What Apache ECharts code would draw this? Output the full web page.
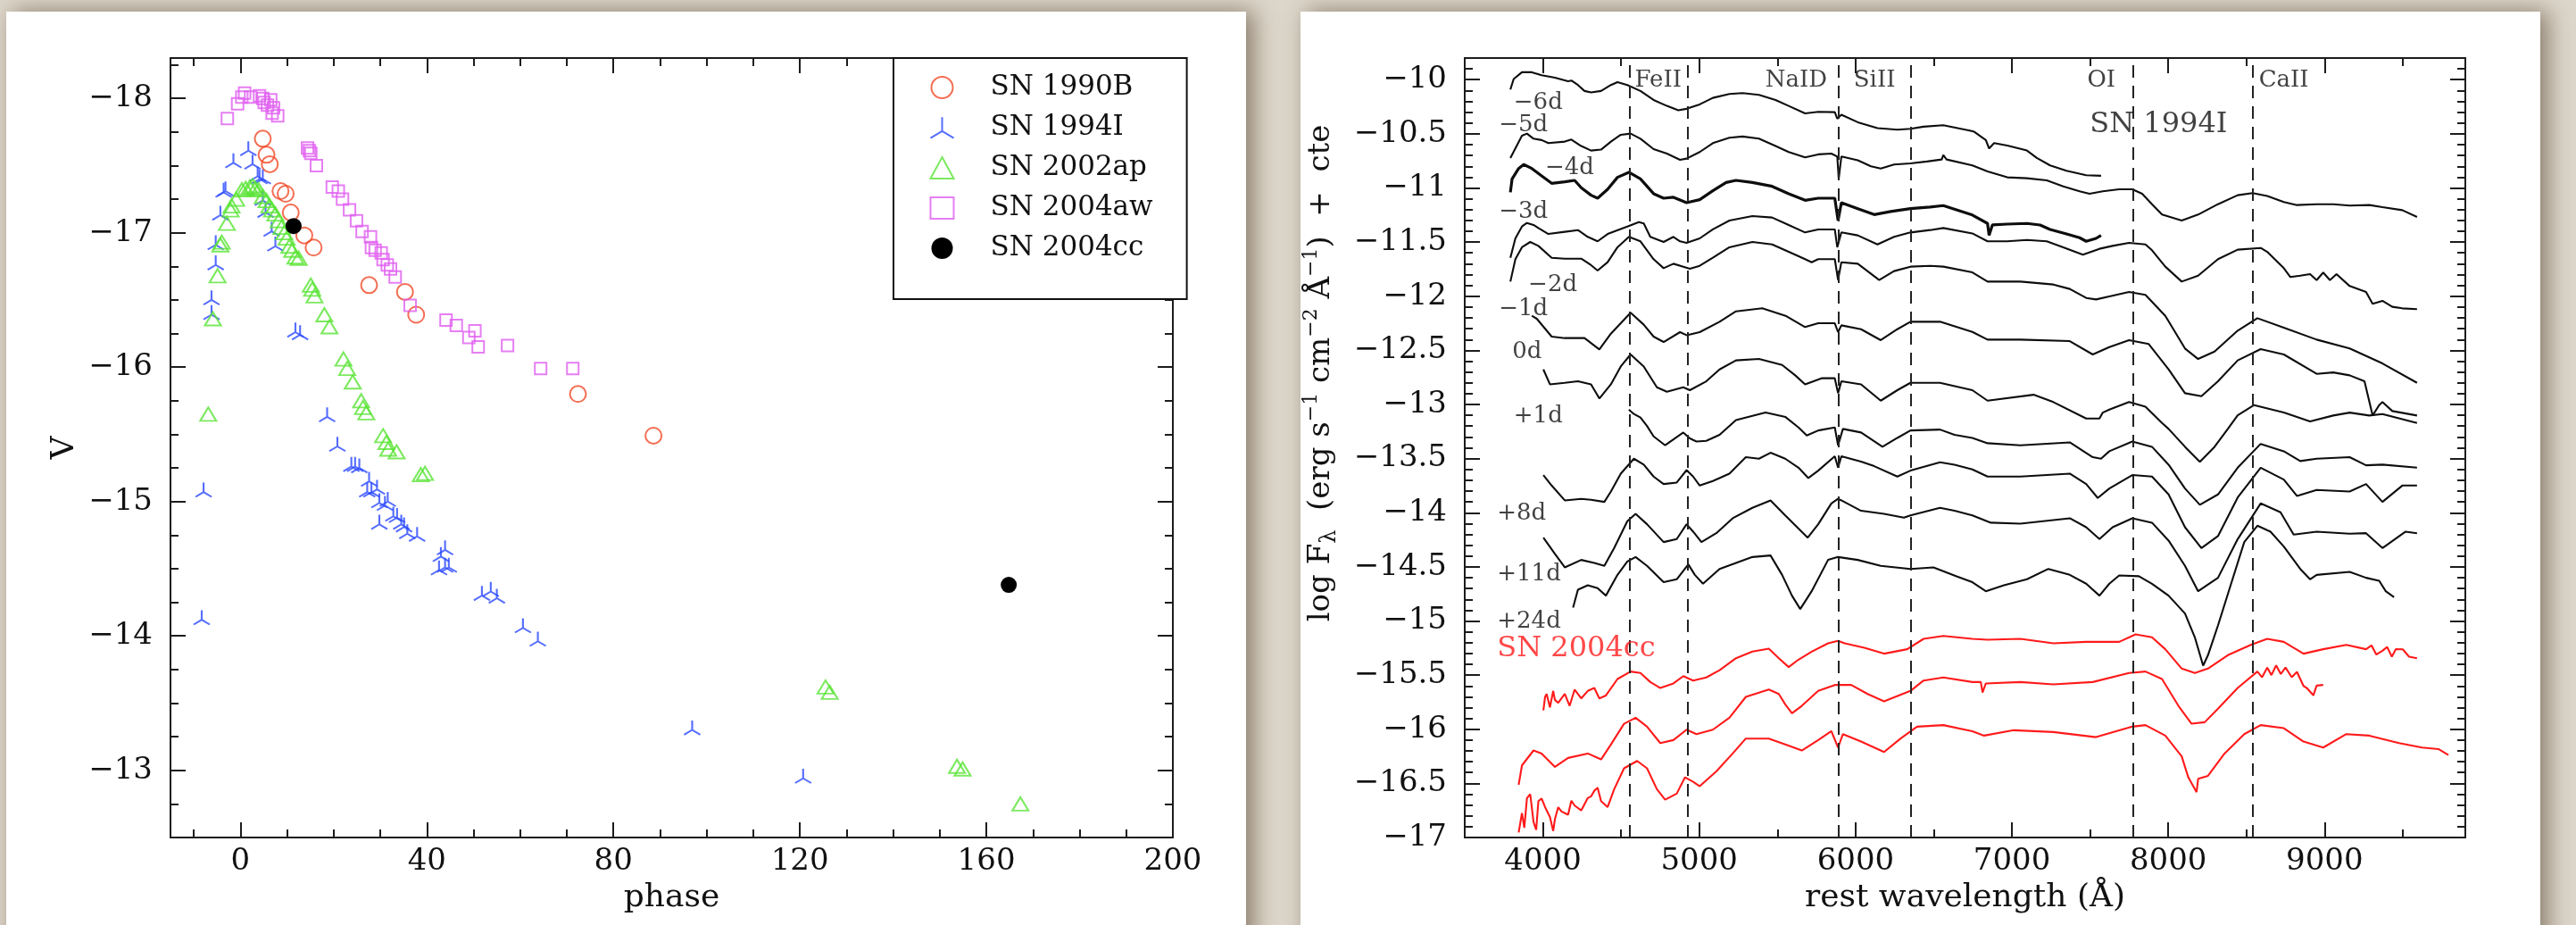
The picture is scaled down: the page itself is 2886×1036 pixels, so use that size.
<!DOCTYPE html>
<html><head><meta charset="utf-8">
<script src="https://cdn.jsdelivr.net/npm/echarts@6/dist/echarts.min.js"></script>
<style>html,body{margin:0;padding:0;background:#ddd6ca}#c{width:2886px;height:1036px}</style>
</head><body><div id="c"></div>
<script>
// ---------- Left panel: light curves (phase, V) ----------
const sn1990B = [[4.8,-17.70],[5.6,-17.58],[6.3,-17.51],[8.6,-17.31],[9.7,-17.29],[10.8,-17.15],[13.7,-16.98],[15.7,-16.89],[27.6,-16.61],[35.3,-16.56],[37.7,-16.39],[72.4,-15.80],[88.6,-15.49]];
const sn1994I = [[-8.3,-14.12],[-7.9,-15.07],[-6.2,-16.39],[-6.2,-16.50],[-5.3,-16.76],[-5.3,-16.91],[-4.3,-17.13],[-3.6,-17.30],[-3.2,-17.31],[-1.5,-17.52],[1.7,-17.61],[2.6,-17.51],[3.7,-17.42],[4.1,-17.40],[4.8,-17.40],[4.8,-17.24],[5.4,-17.15],[6.7,-17.01],[7.5,-16.90],[11.8,-16.26],[12.8,-16.24],[18.6,-15.63],[20.8,-15.41],[23.8,-15.26],[24.6,-15.26],[25.5,-15.25],[27.2,-15.07],[27.6,-15.15],[28.1,-15.07],[29.3,-15.09],[29.8,-14.99],[29.8,-14.83],[31.0,-14.97],[31.6,-15.00],[32.8,-14.89],[33.6,-14.88],[34.5,-14.83],[35.1,-14.81],[35.8,-14.76],[37.9,-14.74],[42.6,-14.49],[43.0,-14.59],[43.9,-14.64],[43.9,-14.51],[44.7,-14.51],[51.8,-14.30],[53.7,-14.33],[55.0,-14.28],[60.6,-14.06],[63.8,-13.96],[96.9,-13.30],[120.7,-12.94]];
const sn2002ap = [[-6.9,-15.65],[-5.9,-16.36],[-4.9,-16.68],[-4.3,-16.91],[-4.0,-16.93],[-2.9,-17.07],[-2.1,-17.17],[-1.9,-17.20],[-0.9,-17.25],[0.3,-17.32],[1.1,-17.33],[2.0,-17.34],[2.6,-17.35],[3.2,-17.33],[3.9,-17.32],[4.8,-17.27],[5.6,-17.24],[6.2,-17.20],[6.8,-17.17],[7.5,-17.14],[8.2,-17.09],[8.8,-17.04],[9.4,-17.00],[9.9,-16.96],[10.5,-16.90],[11.1,-16.87],[11.8,-16.82],[12.5,-16.81],[15.1,-16.61],[15.4,-16.58],[15.9,-16.53],[18.0,-16.39],[19.1,-16.30],[22.1,-16.06],[22.9,-15.99],[24.1,-15.89],[25.9,-15.75],[26.3,-15.70],[27.0,-15.66],[30.6,-15.49],[31.3,-15.44],[31.7,-15.39],[33.5,-15.37],[38.7,-15.20],[39.6,-15.21],[125.5,-13.62],[126.4,-13.58],[153.7,-13.03],[154.9,-13.01],[167.3,-12.75]];
const sn2004aw = [[-2.8,-17.85],[-0.6,-17.96],[0.3,-18.01],[0.9,-18.04],[2.2,-18.01],[4.1,-18.02],[4.8,-18.00],[5.1,-17.97],[5.8,-17.95],[6.5,-17.99],[7.1,-17.93],[6.8,-17.89],[8.0,-17.87],[14.4,-17.63],[14.8,-17.61],[15.1,-17.59],[16.3,-17.50],[19.7,-17.34],[21.0,-17.31],[21.9,-17.25],[23.4,-17.17],[24.9,-17.09],[26.1,-17.01],[27.9,-16.97],[28.1,-16.89],[28.9,-16.87],[30.2,-16.85],[30.6,-16.80],[31.5,-16.76],[32.2,-16.73],[33.2,-16.67],[36.4,-16.46],[44.1,-16.35],[46.3,-16.31],[49.0,-16.22],[50.3,-16.27],[51.0,-16.15],[57.3,-16.16],[64.4,-15.99],[71.3,-15.99]];
const sn2004cc = [[11.4,-17.05],[164.8,-14.38]];
const lcNames = ['SN 1990B','SN 1994I','SN 2002ap','SN 2004aw','SN 2004cc'];

const phaseMajor = [0,40,80,120,160,200];
const phaseMinor = [-10,10,20,30,50,60,70,90,100,110,130,140,150,170,180,190];
const vMajor = [-18,-17,-16,-15,-14,-13];
const vMinor = [-18.25,-17.75,-17.5,-17.25,-16.75,-16.5,-16.25,-15.75,-15.5,-15.25,-14.75,-14.5,-14.25,-13.75,-13.5,-13.25,-12.75];

// ---------- Right panel: spectra (rest wavelength, log F + cte) ----------
const spM6 = [[3792,-10.091],[3813,-9.994],[3866,-9.931],[3929,-9.931],[3992,-9.959],[4077,-9.981],[4161,-10.014],[4182,-10.008],[4224,-10.049],[4266,-10.104],[4308,-10.118],[4372,-10.104],[4435,-10.049],[4477,-10.022],[4540,-10.049],[4624,-10.104],[4708,-10.187],[4793,-10.242],[4866,-10.283],[4919,-10.269],[5003,-10.228],[5087,-10.168],[5193,-10.132],[5277,-10.124],[5382,-10.140],[5488,-10.187],[5572,-10.242],[5677,-10.311],[5761,-10.297],[5867,-10.300],[5883,-10.360],[5909,-10.324],[6014,-10.393],[6140,-10.448],[6267,-10.462],[6351,-10.454],[6435,-10.434],[6561,-10.421],[6730,-10.470],[6759,-10.481],[6833,-10.558],[6854,-10.635],[6886,-10.586],[6970,-10.608],[7096,-10.654],[7159,-10.723],[7244,-10.792],[7349,-10.842],[7475,-10.883],[7570,-10.888]];
const spM5 = [[3792,-10.723],[3866,-10.517],[3898,-10.498],[3940,-10.545],[3992,-10.558],[4035,-10.586],[4140,-10.572],[4182,-10.553],[4245,-10.613],[4308,-10.655],[4372,-10.646],[4435,-10.572],[4498,-10.509],[4561,-10.498],[4624,-10.545],[4708,-10.641],[4793,-10.682],[4877,-10.740],[4919,-10.729],[5003,-10.668],[5087,-10.586],[5193,-10.536],[5277,-10.525],[5382,-10.545],[5488,-10.613],[5572,-10.668],[5677,-10.718],[5761,-10.690],[5845,-10.682],[5883,-10.710],[5892,-10.916],[5909,-10.710],[6014,-10.745],[6098,-10.800],[6161,-10.820],[6246,-10.784],[6351,-10.773],[6456,-10.756],[6551,-10.737],[6561,-10.696],[6582,-10.737],[6747,-10.792],[6844,-10.847],[6970,-10.902],[7096,-10.910],[7223,-10.930],[7328,-10.985],[7433,-11.031],[7496,-11.053],[7581,-11.031],[7686,-11.012],[7770,-11.012],[7833,-11.053],[7896,-11.150],[7960,-11.246],[8086,-11.301],[8191,-11.246],[8318,-11.150],[8444,-11.067],[8539,-11.048],[8633,-11.075],[8739,-11.130],[8823,-11.158],[8949,-11.150],[9055,-11.150],[9160,-11.163],[9286,-11.158],[9370,-11.177],[9497,-11.205],[9591,-11.268]];
const spM4 = [[3792,-11.040],[3803,-10.916],[3845,-10.820],[3877,-10.784],[3929,-10.820],[3992,-10.888],[4056,-10.957],[4140,-10.943],[4203,-10.930],[4245,-10.998],[4308,-11.067],[4350,-11.095],[4414,-11.012],[4477,-10.902],[4550,-10.855],[4624,-10.916],[4708,-11.053],[4772,-11.095],[4835,-11.086],[4919,-11.136],[5003,-11.108],[5087,-11.026],[5172,-10.949],[5235,-10.930],[5340,-10.949],[5466,-10.985],[5572,-11.053],[5677,-11.114],[5761,-11.095],[5867,-11.095],[5888,-11.301],[5909,-11.136],[6014,-11.191],[6119,-11.246],[6225,-11.218],[6351,-11.191],[6477,-11.177],[6561,-11.163],[6747,-11.250],[6844,-11.328],[6854,-11.438],[6875,-11.342],[6970,-11.334],[7096,-11.328],[7180,-11.342],[7244,-11.383],[7349,-11.425],[7433,-11.460],[7475,-11.493],[7538,-11.466],[7570,-11.438]];
const spM3 = [[3792,-11.645],[3824,-11.466],[3866,-11.356],[3898,-11.323],[3940,-11.342],[3971,-11.370],[4035,-11.425],[4140,-11.405],[4224,-11.389],[4287,-11.452],[4350,-11.493],[4414,-11.425],[4540,-11.356],[4614,-11.315],[4645,-11.328],[4687,-11.452],[4772,-11.499],[4835,-11.452],[4877,-11.493],[4919,-11.507],[5003,-11.466],[5087,-11.383],[5193,-11.301],[5340,-11.260],[5466,-11.273],[5572,-11.342],[5677,-11.411],[5761,-11.383],[5867,-11.383],[5883,-11.548],[5909,-11.411],[6014,-11.438],[6140,-11.521],[6246,-11.452],[6351,-11.411],[6477,-11.389],[6561,-11.370],[6747,-11.420],[6844,-11.493],[6970,-11.493],[7096,-11.480],[7223,-11.493],[7328,-11.548],[7454,-11.617],[7560,-11.562],[7644,-11.535],[7749,-11.507],[7854,-11.521],[7896,-11.576],[7981,-11.727],[8086,-11.865],[8191,-11.810],[8318,-11.658],[8444,-11.570],[8591,-11.554],[8633,-11.590],[8739,-11.741],[8781,-11.823],[8844,-11.810],[8907,-11.796],[8949,-11.851],[8991,-11.782],[9034,-11.851],[9076,-11.796],[9160,-11.906],[9265,-11.961],[9307,-12.071],[9370,-12.043],[9433,-12.098],[9497,-12.112],[9591,-12.120]];
const spM2 = [[3792,-11.865],[3824,-11.658],[3866,-11.548],[3919,-11.499],[3971,-11.535],[4056,-11.645],[4140,-11.653],[4245,-11.653],[4308,-11.713],[4350,-11.763],[4414,-11.686],[4477,-11.548],[4550,-11.452],[4624,-11.493],[4708,-11.658],[4772,-11.741],[4835,-11.700],[4898,-11.727],[4940,-11.746],[5003,-11.719],[5087,-11.645],[5193,-11.548],[5340,-11.499],[5466,-11.521],[5572,-11.590],[5677,-11.658],[5719,-11.686],[5761,-11.658],[5867,-11.658],[5888,-11.851],[5909,-11.686],[6014,-11.700],[6151,-11.851],[6246,-11.768],[6351,-11.727],[6477,-11.719],[6561,-11.727],[6747,-11.780],[6844,-11.865],[7054,-11.865],[7265,-11.892],[7370,-11.933],[7475,-12.016],[7538,-12.030],[7623,-12.002],[7749,-11.961],[7854,-11.988],[7981,-12.181],[8107,-12.483],[8191,-12.580],[8296,-12.511],[8444,-12.318],[8570,-12.203],[8739,-12.291],[8949,-12.401],[9160,-12.483],[9370,-12.621],[9591,-12.800]];
const spM1 = [[3929,-12.181],[3961,-12.208],[4056,-12.373],[4140,-12.387],[4266,-12.387],[4361,-12.492],[4435,-12.346],[4561,-12.153],[4645,-12.263],[4708,-12.373],[4772,-12.423],[4877,-12.332],[4919,-12.360],[5003,-12.332],[5130,-12.236],[5235,-12.140],[5403,-12.112],[5552,-12.181],[5677,-12.285],[5761,-12.250],[5867,-12.250],[5888,-12.332],[5909,-12.269],[6035,-12.305],[6161,-12.406],[6267,-12.305],[6351,-12.236],[6540,-12.236],[6747,-12.330],[6844,-12.401],[7054,-12.401],[7370,-12.415],[7517,-12.538],[7623,-12.470],[7749,-12.406],[7875,-12.442],[8002,-12.676],[8107,-12.896],[8212,-12.924],[8318,-12.786],[8444,-12.593],[8591,-12.489],[8739,-12.538],[8949,-12.717],[9055,-12.704],[9160,-12.731],[9255,-12.786],[9307,-13.102],[9349,-13.006],[9370,-12.978],[9433,-13.061],[9591,-13.102]];
const sp0 = [[4003,-12.676],[4045,-12.814],[4140,-12.800],[4224,-12.786],[4308,-12.814],[4361,-12.945],[4435,-12.814],[4498,-12.649],[4561,-12.538],[4645,-12.649],[4729,-12.841],[4793,-12.882],[4898,-12.841],[4940,-12.868],[5045,-12.786],[5130,-12.676],[5235,-12.593],[5382,-12.580],[5530,-12.635],[5614,-12.731],[5677,-12.814],[5782,-12.758],[5867,-12.758],[5888,-12.896],[5909,-12.786],[6035,-12.814],[6161,-12.965],[6267,-12.868],[6351,-12.800],[6540,-12.800],[6747,-12.868],[6844,-12.965],[7138,-12.910],[7265,-12.978],[7475,-13.130],[7560,-13.130],[7581,-13.075],[7623,-13.047],[7749,-12.978],[7854,-13.020],[7960,-13.171],[8002,-13.226],[8107,-13.391],[8202,-13.529],[8296,-13.391],[8381,-13.226],[8444,-13.100],[8549,-13.006],[8739,-13.075],[8907,-13.157],[9055,-13.102],[9160,-13.075],[9286,-13.102],[9370,-13.088],[9591,-13.171]];
const spP1 = [[4550,-13.047],[4582,-13.088],[4624,-13.121],[4666,-13.199],[4708,-13.295],[4782,-13.377],[4835,-13.322],[4898,-13.259],[4940,-13.314],[4982,-13.342],[5045,-13.336],[5130,-13.281],[5235,-13.144],[5424,-13.075],[5552,-13.116],[5635,-13.212],[5688,-13.287],[5761,-13.240],[5867,-13.212],[5888,-13.377],[5919,-13.226],[6035,-13.259],[6172,-13.391],[6267,-13.309],[6351,-13.240],[6540,-13.232],[6633,-13.281],[6747,-13.309],[6844,-13.358],[7054,-13.377],[7370,-13.350],[7517,-13.487],[7570,-13.501],[7623,-13.432],[7770,-13.342],[7896,-13.391],[8002,-13.556],[8107,-13.776],[8202,-13.927],[8318,-13.831],[8444,-13.584],[8591,-13.364],[8739,-13.432],[8844,-13.523],[8949,-13.501],[9160,-13.487],[9265,-13.562],[9370,-13.556],[9591,-13.584]];
const spP8 = [[4003,-13.652],[4056,-13.749],[4140,-13.886],[4245,-13.872],[4308,-13.881],[4393,-13.900],[4435,-13.804],[4498,-13.639],[4582,-13.501],[4645,-13.556],[4708,-13.666],[4772,-13.735],[4856,-13.721],[4919,-13.606],[4961,-13.666],[5003,-13.749],[5087,-13.707],[5193,-13.639],[5298,-13.487],[5382,-13.501],[5456,-13.446],[5550,-13.501],[5635,-13.584],[5698,-13.680],[5761,-13.611],[5867,-13.479],[5888,-13.584],[5909,-13.479],[6035,-13.528],[6119,-13.570],[6267,-13.666],[6351,-13.611],[6540,-13.534],[6633,-13.556],[6747,-13.600],[6844,-13.666],[7054,-13.666],[7370,-13.639],[7475,-13.735],[7549,-13.864],[7623,-13.776],[7770,-13.652],[7896,-13.666],[8002,-13.831],[8107,-14.134],[8212,-14.326],[8318,-14.216],[8444,-13.859],[8591,-13.584],[8739,-13.694],[8823,-13.845],[8949,-13.790],[9160,-13.804],[9265,-13.735],[9370,-13.900],[9497,-13.749],[9591,-13.749]];
const spP11 = [[4003,-14.230],[4077,-14.381],[4140,-14.505],[4245,-14.436],[4329,-14.464],[4393,-14.491],[4456,-14.326],[4540,-14.079],[4593,-14.010],[4666,-14.106],[4772,-14.271],[4856,-14.243],[4919,-14.106],[4961,-14.175],[5014,-14.271],[5109,-14.189],[5214,-14.051],[5340,-13.955],[5456,-13.886],[5550,-14.024],[5635,-14.147],[5694,-14.230],[5761,-14.106],[5845,-13.914],[5888,-13.872],[5909,-13.886],[6035,-13.982],[6182,-14.010],[6309,-14.046],[6351,-14.024],[6540,-13.955],[6633,-13.982],[6747,-14.024],[6865,-14.092],[7054,-14.101],[7370,-14.051],[7475,-14.134],[7560,-14.244],[7644,-14.134],[7770,-14.051],[7896,-14.092],[8002,-14.257],[8107,-14.491],[8191,-14.725],[8318,-14.601],[8444,-14.244],[8591,-13.914],[8718,-13.996],[8802,-14.202],[8949,-14.175],[9160,-14.194],[9265,-14.189],[9370,-14.326],[9518,-14.175],[9591,-14.189]];
const spP24 = [[4193,-14.876],[4224,-14.711],[4287,-14.670],[4350,-14.697],[4403,-14.766],[4477,-14.574],[4540,-14.450],[4593,-14.409],[4666,-14.491],[4772,-14.642],[4856,-14.615],[4930,-14.477],[4972,-14.574],[5024,-14.656],[5130,-14.519],[5235,-14.464],[5340,-14.409],[5456,-14.395],[5530,-14.574],[5593,-14.766],[5646,-14.890],[5719,-14.725],[5824,-14.436],[5888,-14.409],[6014,-14.436],[6161,-14.491],[6351,-14.519],[6498,-14.505],[6646,-14.587],[6747,-14.642],[6833,-14.725],[6949,-14.670],[7096,-14.615],[7233,-14.519],[7370,-14.574],[7475,-14.656],[7560,-14.766],[7623,-14.656],[7686,-14.579],[7812,-14.587],[7896,-14.656],[8002,-14.766],[8107,-14.931],[8170,-15.151],[8223,-15.412],[8254,-15.316],[8318,-15.041],[8402,-14.656],[8486,-14.271],[8570,-14.120],[8654,-14.175],[8739,-14.312],[8844,-14.519],[8907,-14.615],[8949,-14.574],[9160,-14.546],[9265,-14.601],[9349,-14.629],[9391,-14.725],[9444,-14.780]];
const sp04a = [[4003,-15.825],[4014,-15.701],[4024,-15.674],[4045,-15.798],[4066,-15.646],[4077,-15.729],[4098,-15.756],[4140,-15.674],[4171,-15.784],[4203,-15.633],[4245,-15.715],[4287,-15.646],[4329,-15.619],[4361,-15.715],[4403,-15.688],[4477,-15.536],[4561,-15.467],[4624,-15.481],[4687,-15.564],[4751,-15.619],[4835,-15.577],[4898,-15.509],[4961,-15.550],[5045,-15.522],[5130,-15.454],[5235,-15.344],[5340,-15.283],[5445,-15.256],[5509,-15.344],[5572,-15.426],[5635,-15.357],[5719,-15.283],[5824,-15.206],[5888,-15.184],[5930,-15.206],[6056,-15.247],[6182,-15.302],[6330,-15.261],[6435,-15.165],[6561,-15.138],[6747,-15.165],[6844,-15.173],[7054,-15.165],[7265,-15.206],[7475,-15.193],[7686,-15.193],[7791,-15.124],[7896,-15.151],[7981,-15.261],[8086,-15.440],[8170,-15.481],[8254,-15.440],[8381,-15.316],[8528,-15.220],[8633,-15.165],[8739,-15.193],[8865,-15.302],[8991,-15.261],[9139,-15.220],[9265,-15.261],[9300,-15.225],[9330,-15.310],[9370,-15.275],[9400,-15.240],[9430,-15.330],[9455,-15.261],[9500,-15.262],[9540,-15.330],[9591,-15.344]];
const sp04b = [[3845,-16.513],[3866,-16.334],[3940,-16.196],[3992,-16.224],[4077,-16.348],[4161,-16.265],[4287,-16.224],[4372,-16.279],[4435,-16.141],[4519,-15.949],[4593,-15.894],[4666,-15.976],[4751,-16.128],[4835,-16.100],[4919,-16.004],[4982,-16.045],[5087,-16.004],[5193,-15.894],[5298,-15.701],[5445,-15.633],[5509,-15.674],[5550,-15.770],[5593,-15.853],[5656,-15.784],[5761,-15.646],[5867,-15.591],[5972,-15.591],[6077,-15.674],[6182,-15.742],[6351,-15.646],[6435,-15.550],[6561,-15.522],[6747,-15.564],[6801,-15.564],[6812,-15.660],[6833,-15.577],[7054,-15.564],[7265,-15.586],[7517,-15.564],[7749,-15.481],[7854,-15.467],[7960,-15.536],[8065,-15.784],[8149,-15.949],[8233,-15.935],[8318,-15.811],[8444,-15.619],[8570,-15.467],[8600,-15.520],[8633,-15.430],[8660,-15.500],[8690,-15.410],[8720,-15.490],[8750,-15.430],[8790,-15.520],[8823,-15.470],[8865,-15.600],[8886,-15.619],[8928,-15.687],[8949,-15.597],[8991,-15.591]];
const sp04c = [[3845,-16.953],[3866,-16.774],[3881,-16.910],[3898,-16.636],[3919,-16.600],[3940,-16.856],[3957,-16.930],[3971,-16.664],[3992,-16.640],[4014,-16.719],[4045,-16.810],[4066,-16.940],[4077,-16.829],[4098,-16.720],[4119,-16.760],[4161,-16.790],[4182,-16.660],[4203,-16.705],[4245,-16.750],[4287,-16.636],[4308,-16.620],[4329,-16.568],[4350,-16.540],[4372,-16.664],[4414,-16.719],[4456,-16.554],[4519,-16.361],[4603,-16.293],[4666,-16.361],[4729,-16.554],[4782,-16.650],[4856,-16.595],[4909,-16.444],[4961,-16.485],[5003,-16.526],[5109,-16.389],[5214,-16.224],[5298,-16.086],[5445,-16.086],[5550,-16.141],[5656,-16.196],[5761,-16.100],[5845,-16.018],[5888,-16.169],[5919,-16.045],[6035,-16.114],[6182,-16.210],[6288,-16.086],[6393,-15.976],[6561,-15.962],[6747,-16.018],[6822,-16.059],[7012,-16.009],[7265,-16.026],[7538,-16.073],[7770,-15.976],[7854,-15.962],[7981,-16.059],[8086,-16.251],[8128,-16.444],[8181,-16.581],[8191,-16.458],[8254,-16.430],[8360,-16.224],[8486,-16.045],[8591,-15.962],[8739,-15.990],[8865,-16.114],[8991,-16.169],[9139,-16.045],[9286,-16.059],[9476,-16.128],[9623,-16.169],[9728,-16.183],[9792,-16.238]];
const blackSpectra = [spM6, spM5, spM4, spM3, spM2, spM1, sp0, spP1, spP8, spP11, spP24];
const redSpectra = [sp04a, sp04b, sp04c];
const lineIds = [4555, 4924, 5890, 6355, 7774, 8542];
const lineNames = [['FeII',4737],['NaID',5620],['SiII',6121],['OI',7572],['CaII',8739]];
const epochLabels = [['\u22126d',3813,-10.215],['\u22125d',3718,-10.421],['\u22124d',4014,-10.817],['\u22123d',3718,-11.219],['\u22122d',3906,-11.898],['\u22121d',3718,-12.120],['0d',3804,-12.516],['+1d',3813,-13.111],['+8d',3707,-14.010],['+11d',3707,-14.571],['+24d',3707,-15.008]];
const wlMajor = [4000,5000,6000,7000,8000,9000];
const wlMinor = [4500,5500,6500,7500,8500,9500];
const fMajor = [-17,-16.5,-16,-15.5,-15,-14.5,-14,-13.5,-13,-12.5,-12,-11.5,-11,-10.5,-10];

// ---------- build ----------
const FONT = 'DejaVu Serif';
const AX = '#1c1c1c';
const fmt = v => String(v).replace('-', '\u2212');
const fMinor = [];
for (let i = -169; i <= -98; i++) if (i % 5 !== 0) fMinor.push(i / 10);

function ax(kind, grid, pos, min, max, ticks, len, labels, extra) {
  return Object.assign({
    gridIndex: grid, type: 'value', position: pos, min: min, max: max,
    axisLine: {show: true, onZero: false, lineStyle: {color: AX, width: 2}},
    axisTick: {show: true, inside: true, length: len, customValues: ticks, lineStyle: {color: AX, width: 2}},
    axisLabel: labels ? {show: true, customValues: labels, formatter: fmt, fontFamily: FONT, fontSize: 34, color: '#111', margin: kind === 'x' ? 10 : 20} : {show: false},
    splitLine: {show: false}, minorTick: {show: false}, minorSplitLine: {show: false}
  }, extra || {});
}
const nameStyle = {fontFamily: FONT, fontSize: 36, color: '#111'};

const xAxis = [
  ax('x', 0, 'bottom', -15, 200, phaseMajor, 17, phaseMajor, {name: 'phase', nameLocation: 'middle', nameGap: 50, nameTextStyle: nameStyle}),
  ax('x', 0, 'bottom', -15, 200, phaseMinor, 9, null),
  ax('x', 0, 'top', -15, 200, phaseMajor, 17, null),
  ax('x', 0, 'top', -15, 200, phaseMinor, 9, null),
  ax('x', 1, 'bottom', 3500, 9900, wlMajor, 17, wlMajor, {name: 'rest wavelength (\u00c5)', nameLocation: 'middle', nameGap: 50, nameTextStyle: nameStyle}),
  ax('x', 1, 'bottom', 3500, 9900, wlMinor, 9, null),
  ax('x', 1, 'top', 3500, 9900, wlMajor, 17, null),
  ax('x', 1, 'top', 3500, 9900, wlMinor, 9, null)
];
const yAxis = [
  ax('y', 0, 'left', -18.3, -12.5, vMajor, 17, vMajor, {inverse: true, name: 'V', nameLocation: 'middle', nameGap: 100, nameRotate: 90, nameTextStyle: nameStyle}),
  ax('y', 0, 'left', -18.3, -12.5, vMinor, 9, null, {inverse: true}),
  ax('y', 0, 'right', -18.3, -12.5, vMajor, 17, null, {inverse: true}),
  ax('y', 0, 'right', -18.3, -12.5, vMinor, 9, null, {inverse: true}),
  ax('y', 1, 'left', -17, -9.8, fMajor, 17, fMajor),
  ax('y', 1, 'left', -17, -9.8, fMinor, 9, null),
  ax('y', 1, 'right', -17, -9.8, fMajor, 17, null),
  ax('y', 1, 'right', -17, -9.8, fMinor, 9, null)
];

const triStar = 'path://M10,0L10,12M10,12L0,18M10,12L20,18';
const lcStyles = [
  {data: sn1990B, symbol: 'circle', symbolSize: 18, itemStyle: {color: 'rgba(0,0,0,0)', borderColor: '#f04a28', borderWidth: 2}},
  {data: sn1994I, symbol: triStar, symbolSize: [18, 16], symbolOffset: [0, -2.7], itemStyle: {color: 'none', borderColor: '#2a48ff', borderWidth: 2}},
  {data: sn2002ap, symbol: 'triangle', symbolSize: [18, 15], itemStyle: {color: 'rgba(0,0,0,0)', borderColor: '#5ae436', borderWidth: 2}},
  {data: sn2004aw, symbol: 'rect', symbolSize: 13, itemStyle: {color: 'rgba(0,0,0,0)', borderColor: '#e05ef0', borderWidth: 2}},
  {data: sn2004cc, symbol: 'circle', symbolSize: 18, itemStyle: {color: '#000', borderColor: '#000', borderWidth: 0, opacity: 1}}
];
const series = [];
lcStyles.forEach((s, i) => {
  series.push(Object.assign({type: 'scatter', name: lcNames[i], xAxisIndex: 0, yAxisIndex: 0, symbolKeepAspect: false, silent: true, z: 5}, s));
});
blackSpectra.forEach((d, i) => {
  const s = {type: 'line', name: 'bk' + i, xAxisIndex: 4, yAxisIndex: 4, data: d, showSymbol: false, symbol: 'none', silent: true,
    lineStyle: {color: '#0d0d0d', width: i === 2 ? 3.2 : 2.1}, z: 4};
  if (i === 0) {
    s.markLine = {silent: true, symbol: ['none', 'none'], label: {show: false},
      lineStyle: {color: '#222', width: 2, type: [14, 9]}, data: lineIds.map(l => ({xAxis: l}))};
  }
  series.push(s);
});
redSpectra.forEach((d, i) => {
  series.push({type: 'line', name: 'rd' + i, xAxisIndex: 4, yAxisIndex: 4, data: d, showSymbol: false, symbol: 'none', silent: true,
    lineStyle: {color: '#ff1a1a', width: 2.1}, z: 4});
});
const labelData = [];
epochLabels.forEach(e => labelData.push({name: e[0], value: [e[1], e[2]]}));
labelData.push({name: 'SN 1994I', value: [7498, -10.413], label: {fontSize: 32}});
labelData.push({name: 'SN 2004cc', value: [3707, -15.256], label: {fontSize: 32, color: '#ff1a1a'}});
lineNames.forEach(l => labelData.push({name: l[0], value: [l[1], -10.008], label: {align: 'center', fontSize: 26}}));
series.push({type: 'scatter', name: 'labels', xAxisIndex: 4, yAxisIndex: 4, symbolSize: 1, silent: true, z: 6,
  itemStyle: {color: 'rgba(0,0,0,0)'},
  label: {show: true, position: 'inside', formatter: '{b}', align: 'left', verticalAlign: 'middle', fontFamily: FONT, fontSize: 26, color: '#111'},
  data: labelData});

const option = {
  backgroundColor: '#ddd6ca',
  animation: false,
  grid: [
    {left: 191, top: 65, width: 1123, height: 873},
    {left: 1641, top: 65, width: 1121, height: 873}
  ],
  xAxis: xAxis, yAxis: yAxis,
  legend: {
    data: lcNames, orient: 'vertical', left: 1001, top: 65, padding: [17, 38, 41, 39],
    itemWidth: 26, itemHeight: 24, itemGap: 13, selectedMode: false,
    borderColor: '#111', borderWidth: 2, backgroundColor: '#fff',
    textStyle: {fontFamily: FONT, fontSize: 31, color: '#111', lineHeight: 32, padding: [0, 0, 0, 36]}
  },
  graphic: [
    {type: 'rect', z: -10, shape: {x: 7, y: 13, width: 1389, height: 1100}, style: {fill: '#fff', shadowBlur: 24, shadowColor: 'rgba(70,50,30,0.55)', shadowOffsetX: 8}},
    {type: 'rect', z: -10, shape: {x: 1457, y: 13, width: 1389, height: 1100}, style: {fill: '#fff', shadowBlur: 24, shadowColor: 'rgba(70,50,30,0.55)', shadowOffsetX: 8}},
    {type: 'text', x: 1480, y: 418, rotation: Math.PI / 2, z: 10,
      style: {text: 'log F{sub|\u03bb}  (erg s{sup|\u22121} cm{sup|\u22122} \u00c5{sup|\u22121})  +  cte', fontFamily: FONT, fontSize: 34, fill: '#111', align: 'center', verticalAlign: 'middle', lineHeight: 44,
        rich: {sup: {fontFamily: FONT, fontSize: 22, verticalAlign: 'top', lineHeight: 44}, sub: {fontFamily: FONT, fontSize: 24, verticalAlign: 'bottom', lineHeight: 44}}}}
  ],
  series: series
};
const chart = echarts.init(document.getElementById('c'), null, {renderer: 'canvas'});
chart.setOption(option);
</script></body></html>
